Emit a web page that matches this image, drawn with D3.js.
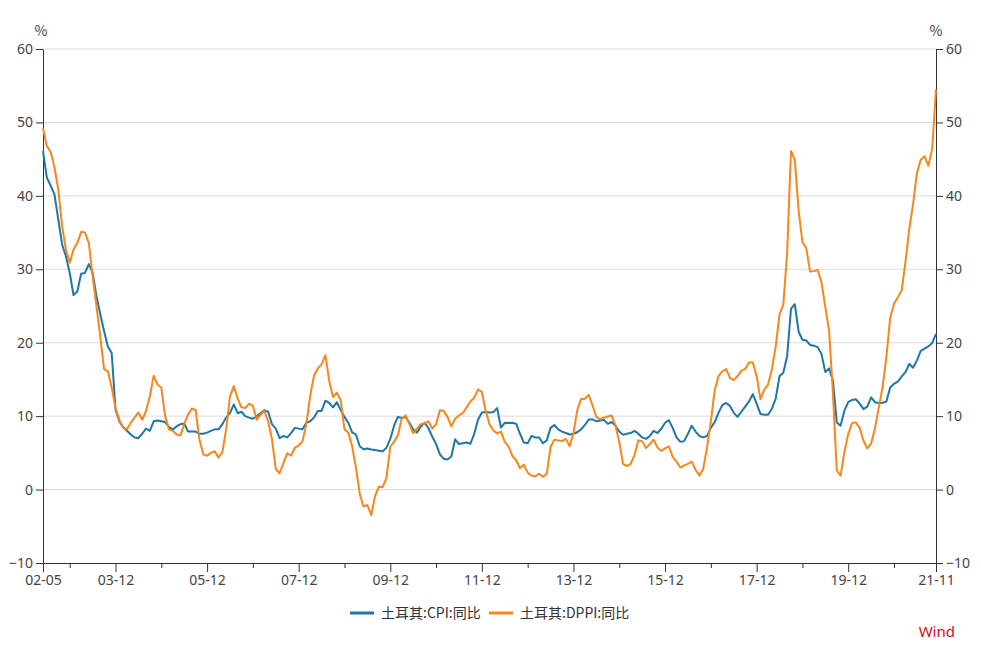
<!DOCTYPE html>
<html>
<head>
<meta charset="utf-8">
<script src="https://cdn.jsdelivr.net/npm/d3@7"></script>
<style>
  body { margin: 0; background: #fff; }
  text { font-family: "Noto Sans CJK SC", "Noto Sans", sans-serif; }
</style>
</head>
<body>
<div id="chart"></div>
<script>
// 土耳其 CPI / DPPI 同比, monthly from 2002-05 to 2021-11
const START_YEAR = 2002, START_MONTH = 5;

const cpi = [
  46.1, 42.5, 41.4, 40.2, 36.8, 33.4, 31.8, 29.5, 26.5, 27.0, 29.4, 29.5, 30.7, 29.5, 26.4, 23.9, 21.6, 19.5, 18.6, 10.9,
  9.3, 8.5, 8.0, 7.5, 7.1, 7.0, 7.6, 8.3, 8.0, 9.3, 9.4, 9.3, 9.2, 8.5, 8.2, 8.6, 8.9, 9.0, 7.9, 7.9,
  7.9, 7.6, 7.6, 7.75, 8.0, 8.2, 8.2, 8.9, 9.8, 10.4, 11.6, 10.4, 10.6, 10.0, 9.8, 9.65, 10.0, 10.4, 10.8, 10.6,
  8.9, 8.3, 7.0, 7.3, 7.1, 7.7, 8.4, 8.3, 8.2, 9.1, 9.3, 9.8, 10.7, 10.7, 12.1, 11.8, 11.2, 11.9, 10.85, 9.9,
  9.1, 7.8, 7.5, 5.9, 5.5, 5.6, 5.45, 5.4, 5.3, 5.2, 5.7, 6.9, 8.7, 9.9, 9.75, 9.9, 9.1, 8.2, 7.75, 8.6,
  9.1, 8.35, 7.2, 6.2, 4.8, 4.2, 4.1, 4.5, 6.85, 6.2, 6.3, 6.4, 6.25, 7.6, 9.5, 10.5, 10.55, 10.5, 10.55, 11.1,
  8.45, 9.1, 9.05, 9.1, 8.95, 7.6, 6.4, 6.3, 7.3, 7.1, 7.1, 6.3, 6.7, 8.4, 8.8, 8.2, 7.9, 7.7, 7.5, 7.6,
  7.8, 8.2, 8.8, 9.55, 9.55, 9.3, 9.4, 9.5, 8.95, 9.2, 8.7, 7.9, 7.45, 7.6, 7.7, 8.0, 7.6, 7.1, 6.9, 7.3,
  8.0, 7.7, 8.25, 9.1, 9.45, 8.4, 7.1, 6.5, 6.6, 7.6, 8.7, 7.9, 7.3, 7.1, 7.3, 8.4, 9.2, 10.45, 11.5, 11.8,
  11.4, 10.45, 9.9, 10.6, 11.3, 12.0, 13.0, 11.7, 10.3, 10.2, 10.2, 11.0, 12.4, 15.45, 15.9, 18.2, 24.6, 25.25, 21.5, 20.4,
  20.3, 19.7, 19.6, 19.4, 18.45, 16.0, 16.5, 14.8, 9.15, 8.7, 10.75, 11.9, 12.2, 12.3, 11.7, 10.95, 11.3, 12.55, 11.9, 11.8,
  11.8, 12.0, 13.9, 14.4, 14.7, 15.4, 16.0, 17.1, 16.6, 17.6, 18.9, 19.2, 19.5, 19.95, 21.2
];

const dppi = [
  49.2, 46.8, 46.0, 43.9, 40.9, 35.9, 32.7, 30.9, 32.7, 33.6, 35.1, 35.0, 33.6, 29.1, 25.0, 20.9, 16.4, 16.1, 13.9, 11.1,
  9.5, 8.4, 8.2, 9.1, 9.8, 10.5, 9.5, 10.7, 12.7, 15.5, 14.3, 13.9, 10.0, 8.2, 8.0, 7.5, 7.35, 8.9, 10.2, 11.05,
  10.8, 6.8, 4.8, 4.6, 5.0, 5.2, 4.35, 5.1, 8.2, 12.7, 14.1, 12.4, 11.2, 11.1, 11.7, 11.4, 9.5, 10.2, 10.7, 9.3,
  6.85, 2.8, 2.2, 3.6, 4.95, 4.6, 5.7, 6.0, 6.6, 8.9, 12.7, 15.5, 16.5, 17.05, 18.3, 14.8, 12.6, 13.2, 12.2, 8.2,
  7.75, 5.9, 3.0, -0.6, -2.3, -2.1, -3.5, -0.9, 0.4, 0.35, 1.6, 5.85, 6.5, 7.4, 9.65, 10.1, 8.9, 7.7, 8.3, 8.9,
  9.0, 9.3, 8.3, 8.9, 10.8, 10.7, 9.9, 8.6, 9.65, 10.1, 10.4, 11.2, 12.0, 12.5, 13.65, 13.3, 10.7, 8.9, 8.05, 7.65,
  7.9, 6.5, 5.9, 4.55, 4.0, 2.9, 3.4, 2.3, 1.9, 1.8, 2.15, 1.75, 2.15, 5.8, 6.8, 6.7, 6.6, 6.9, 5.9, 7.7,
  10.8, 12.35, 12.35, 12.9, 11.45, 9.9, 9.55, 9.8, 9.95, 10.1, 8.7, 6.5, 3.5, 3.2, 3.5, 4.7, 6.7, 6.6, 5.65, 6.2,
  6.8, 5.75, 5.25, 5.6, 5.9, 4.45, 3.8, 3.0, 3.3, 3.5, 3.8, 2.7, 1.9, 2.8, 5.7, 9.3, 13.5, 15.45, 16.1, 16.4,
  15.2, 14.9, 15.45, 16.2, 16.4, 17.3, 17.3, 15.45, 12.3, 13.6, 14.3, 16.4, 19.5, 23.9, 25.2, 32.3, 46.1, 44.9, 38.0, 33.7,
  32.9, 29.7, 29.75, 29.9, 28.2, 24.8, 21.6, 13.0, 2.6, 1.9, 5.1, 7.55, 9.05, 9.15, 8.4, 6.65, 5.6, 6.3, 8.3, 11.2,
  13.9, 18.1, 23.4, 25.3, 26.2, 27.1, 31.0, 35.5, 38.9, 43.1, 44.9, 45.4, 44.1, 46.4, 54.5
];

const tickLabels = ["02-05", "03-12", "05-12", "07-12", "09-12", "11-12", "13-12", "15-12", "17-12", "19-12", "21-11"];
const yTicks = [-10, 0, 10, 20, 30, 40, 50, 60];
const seriesNames = ["土耳其:CPI:同比", "土耳其:DPPI:同比"];
const colors = ["#1f77a7", "#f7861c"];

const MARGIN = { TOP: 49, BOTTOM: 84, LEFT: 43, RIGHT: 45 };
const W = 981, H = 647;
const WIDTH = W - MARGIN.LEFT - MARGIN.RIGHT;
const HEIGHT = H - MARGIN.TOP - MARGIN.BOTTOM;

// month keys like "02-05"
const fmt = d3.timeFormat("%y-%m");
const start = new Date(START_YEAR, START_MONTH - 1, 1);
const months = d3.range(cpi.length).map(i => fmt(d3.timeMonth.offset(start, i)));

const svg = d3.select("#chart")
  .append("svg")
    .attr("width", W)
    .attr("height", H)
  .append("g")
    .attr("transform", `translate(${MARGIN.LEFT}, ${MARGIN.TOP})`);

const x = d3.scalePoint()
  .domain(months)
  .range([0, WIDTH]);

const y = d3.scaleLinear()
  .domain([-10, 60])
  .range([HEIGHT, 0]);

// gridlines
svg.append("g")
  .selectAll("line")
  .data(yTicks.filter(d => d > -10))
  .enter().append("line")
    .attr("x1", 0)
    .attr("x2", WIDTH)
    .attr("y1", d => y(d))
    .attr("y2", d => y(d))
    .attr("stroke", "#dcdcdc")
    .attr("stroke-width", 1);

// x axis: a tick every December plus both ends, labels every other year
const xTicks = months.filter((m, i) => m.endsWith("-12") || i === 0 || i === months.length - 1);
const xAxis = svg.append("g")
  .attr("transform", `translate(0, ${HEIGHT})`)
  .call(d3.axisBottom(x)
    .tickValues(xTicks)
    .tickSizeOuter(0)
    .tickSize(5)
    .tickPadding(4)
    .tickFormat(d => tickLabels.includes(d) ? d : ""));
xAxis.selectAll(".tick line")
  .attr("y2", d => tickLabels.includes(d) ? 9 : 5);
xAxis.selectAll(".tick text").attr("y", 12);

const yAxisL = svg.append("g")
  .call(d3.axisLeft(y).tickValues(yTicks).tickSize(7).tickPadding(3).tickSizeOuter(0));
const yAxisR = svg.append("g")
  .attr("transform", `translate(${WIDTH}, 0)`)
  .call(d3.axisRight(y).tickValues(yTicks).tickSize(7).tickPadding(3).tickSizeOuter(0));

[xAxis, yAxisL, yAxisR].forEach(a => {
  a.select(".domain").attr("stroke", "#333");
  a.selectAll(".tick line").attr("stroke", "#333");
  a.selectAll(".tick text")
    .attr("fill", "#444")
    .style("font-size", "14px")
    .style("font-family", "'Noto Sans', 'DejaVu Sans', sans-serif");
});

// unit labels
svg.append("text")
  .attr("x", -2).attr("y", -13)
  .attr("text-anchor", "middle")
  .attr("fill", "#444")
  .style("font-size", "14px")
  .text("%");
svg.append("text")
  .attr("x", WIDTH).attr("y", -13)
  .attr("text-anchor", "middle")
  .attr("fill", "#444")
  .style("font-size", "14px")
  .text("%");

// lines
const line = d3.line()
  .x((d, i) => x(months[i]))
  .y(d => y(d));

[cpi, dppi].forEach((s, k) => {
  svg.append("path")
    .datum(s)
    .attr("fill", "none")
    .attr("stroke", colors[k])
    .attr("stroke-width", 2)
    .attr("stroke-linejoin", "round")
    .attr("d", line);
});

// legend
const legend = svg.append("g")
  .attr("transform", `translate(${350 - MARGIN.LEFT}, ${613 - MARGIN.TOP})`);
const legendX = [0, 139];
seriesNames.forEach((name, k) => {
  const g = legend.append("g").attr("transform", `translate(${legendX[k]}, 0)`);
  g.append("line")
    .attr("x1", 0).attr("x2", 24)
    .attr("stroke", colors[k])
    .attr("stroke-width", 3);
  g.append("text")
    .attr("x", 31).attr("y", 5)
    .attr("fill", "#333")
    .style("font-size", "14px")
    .text(name);
});

// source mark
svg.append("text")
  .attr("x", 955 - MARGIN.LEFT).attr("y", 637 - MARGIN.TOP)
  .attr("text-anchor", "end")
  .attr("fill", "#d0101b")
  .style("font-size", "15px")
  .style("font-family", "'Noto Sans', sans-serif")
  .text("Wind");
</script>
</body>
</html>
